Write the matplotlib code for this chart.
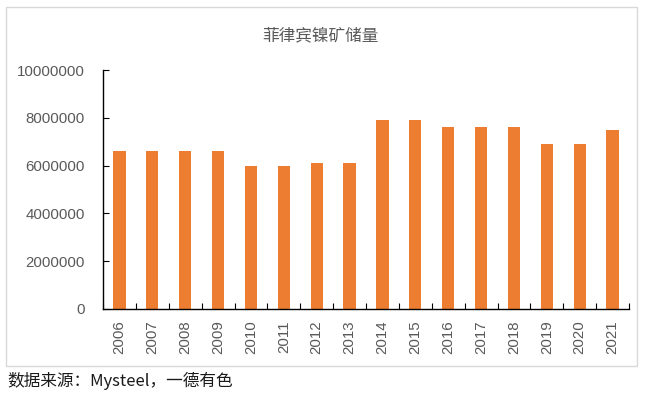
"""菲律宾镍矿储量 bar chart."""

import matplotlib

matplotlib.use("Agg")
import matplotlib.pyplot as plt
from matplotlib.patches import Rectangle
import numpy as np

years = [str(y) for y in range(2006, 2022)]
reserves = [6600000, 6600000, 6600000, 6600000, 6000000, 6000000, 6100000, 6100000,
            7900000, 7900000, 7600000, 7600000, 7600000, 6900000, 6900000, 7500000]
yticks = [0, 2000000, 4000000, 6000000, 8000000, 10000000]

plt.rcParams["font.family"] = ["Liberation Sans", "DejaVu Sans"]
GRAY = "#595959"
CJK = ["Noto Sans CJK SC", "DejaVu Sans"]

fig = plt.figure(figsize=(6.45, 3.98), dpi=100)
fig.patches.append(Rectangle((5.5 / 645, 1 - 365.5 / 398), 631 / 645, 359 / 398,
                             transform=fig.transFigure, fill=False,
                             edgecolor="#d9d9d9", linewidth=1.0))

ax = fig.add_axes([103 / 645, 1 - 309 / 398, 526 / 645, 239 / 398])
x = np.arange(len(years))
ax.bar(x, reserves, width=0.37, color="#ed7d31", zorder=1)
ax.set_xlim(-0.5, len(years) - 0.5)
ax.set_ylim(0, 10000000)
ax.set_yticks(yticks)
ax.set_yticklabels([str(v) for v in yticks], color=GRAY, fontsize=10.8,
                   family="Liberation Sans")
ax.set_xticks(np.arange(-0.5, len(years), 1.0))
ax.set_xticklabels([])
ax.set_xticks(x, minor=True)
ax.set_xticklabels(years, minor=True, rotation=90, color=GRAY, fontsize=10.8,
                   family="Liberation Sans")
ax.tick_params(axis="x", which="major", direction="in", length=4, width=0.8)
ax.tick_params(axis="x", which="minor", length=0, pad=8)
ax.tick_params(axis="y", direction="in", length=4, width=0.8, pad=13)
for s in ("top", "right"):
    ax.spines[s].set_visible(False)
for s in ("left", "bottom"):
    ax.spines[s].set_linewidth(1.0)

fig.text(320 / 645, 1 - 36 / 398, "菲律宾镍矿储量", ha="center", va="center",
         fontsize=12, color=GRAY, family=CJK)
fig.text(7 / 645, 1 - 381 / 398, "数据来源：Mysteel，一德有色", ha="left", va="center",
         fontsize=12, color="#1a1a1a", style="italic", family=CJK)

fig.savefig("out.png", dpi=100)
